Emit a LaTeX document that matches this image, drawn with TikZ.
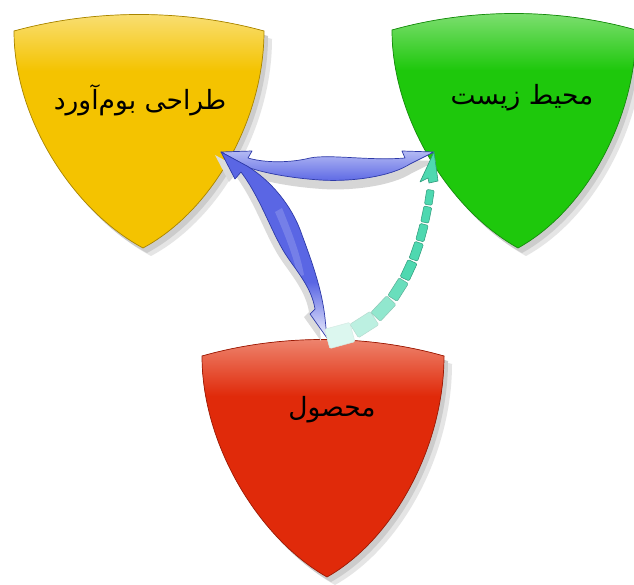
\documentclass[tikz,border=0pt]{standalone}
\usepackage{fontspec}
\newfontfamily\arabicfont[Script=Arabic]{DejaVu Sans}
\TeXXeTstate=1
\usetikzlibrary{decorations.markings,calc}
\definecolor{yelMain}{HTML}{F4C300}
\definecolor{yelLight}{HTML}{FCEFB8}
\definecolor{yelEdge}{HTML}{A88400}
\definecolor{grnMain}{HTML}{1EC80C}
\definecolor{grnLight}{HTML}{B8ECAE}
\definecolor{grnEdge}{HTML}{178A0E}
\definecolor{redMain}{HTML}{E02A0A}
\definecolor{redLight}{HTML}{F6BCAC}
\definecolor{redEdge}{HTML}{9A1A05}
\definecolor{arrBlue}{HTML}{5A66E4}
\definecolor{arrLight}{HTML}{B4BAF4}
\definecolor{arrEdge}{HTML}{2E3AA8}
\definecolor{dashCol}{HTML}{4ED8B0}
\definecolor{dashEdge}{HTML}{2E9A7A}
% shield outline: #1 half width, #2 height, #3 tip offset
\newcommand\shieldpath[3]{(-#1,0) .. controls (-0.36*#1,-22) and (0.36*#1,-22) .. (#1,0)
 .. controls (#1,0.41*#2) and (#3+0.55*#1,0.83*#2) .. (#3,#2)
 .. controls (#3-0.55*#1,0.83*#2) and (-#1,0.41*#2) .. (-#1,0) -- cycle}
% #1 x, #2 y, #3 half width, #4 height, #5 main, #6 light, #7 edge
\newcommand\myshield[7]{%
\begin{scope}[shift={(#1,#2)}]
 \fill[black!10, shift={(8,8)}] \shieldpath{#3}{#4}{4};
 \fill[black!20, shift={(4,5)}] \shieldpath{#3}{#4}{4};
 \fill[#5] \shieldpath{#3}{#4}{4};
 \begin{scope}
  \clip \shieldpath{#3}{#4}{4};
  \shade[top color=#6!65!#5, middle color=#6, bottom color=#5] (-#3-5,-20) rectangle (#3+5,40);
 \end{scope}
 \draw[#7, line width=0.7] \shieldpath{#3}{#4}{4};
\end{scope}}
\tikzset{
 label/.style={font=\arabicfont\fontsize{26.5}{30}\selectfont, text=black, inner sep=0},
 arrline/.style={draw=arrEdge, line width=0.7, line join=round},
 dashseg/.style={fill=dashCol, draw=dashEdge, rounded corners=1.2, line width=0.5},
}
\begin{document}
\begin{tikzpicture}[x=1pt,y=-1pt]
\useasboundingbox (0,0) rectangle (634,585);
\fill[white] (0,0) rectangle (634,585);
% shields
\myshield{139}{31}{125}{217}{yelMain}{yelLight}{yelEdge}
\myshield{514}{30}{122}{218}{grnMain}{grnLight}{grnEdge}
\myshield{323}{356}{121}{221}{redMain}{redLight}{redEdge}
% attach points
\coordinate (yR) at (221,152);
\coordinate (gL) at (434,152);
\coordinate (rT) at (327,338);
% labels
\node[label] (ytext) at (140,100) {\beginR طراحی بوم‌آورد\endR};
\node[label] (gtext) at (522,98) {\beginR محیط زیست\endR};
\node[label] (rtext) at (332,410) {\beginR محصول\endR};
% arrow yellow <-> green
\def\arrowApath{(yR) -- (252,151) -- (248,158) .. controls (265,163) and (290,163) .. (310,158)
 .. controls (330,154) and (370,161) .. (405,158) -- (402,151) -- (gL) -- (410,164)
 .. controls (390,177) and (350,182) .. (320,180) .. controls (290,178) and (265,173) .. (250,168) -- cycle}
\fill[black!16, transform canvas={shift={(2pt,-9pt)}}] \arrowApath;
\shade[top color=arrLight, bottom color=arrBlue] \arrowApath;
\path[arrline] \arrowApath;
% arrow yellow <-> red
\def\arrowBpath{(yR) -- (247,166) .. controls (270,180) and (292,205) .. (302,235)
 .. controls (312,262) and (322,290) .. (325,318) -- (rT) -- (310,314) -- (315,309)
 .. controls (312,290) and (300,275) .. (288,258) .. controls (272,235) and (262,200) .. (241,172)
 -- (235,179) -- cycle}
\fill[black!14, transform canvas={shift={(-6pt,-3pt)}}] \arrowBpath;
\begin{scope}
 \clip \arrowBpath;
 \fill[arrBlue] (200,140) rectangle (345,282);
 \shade[top color=arrBlue, bottom color=arrBlue!8!white] (200,282) rectangle (345,340);
 \fill[arrLight, opacity=.3] (282,208) .. controls (292,233) and (300,253) .. (304,275) -- (298,277) .. controls (293,255) and (285,235) .. (275,212) -- cycle;
\end{scope}
\path[arrline] \arrowBpath;
% dashed arrow red -> green
\path[postaction={decorate}, decoration={markings,
  mark=at position 13pt with {\fill[dashseg, fill=dashCol!20!white, draw=dashEdge!20] (-13,-10) rectangle (13,10);},
  mark=at position 40pt with {\fill[dashseg, fill=dashCol!38!white, draw=dashEdge!35] (-12,-8) rectangle (12,8);},
  mark=at position 65pt with {\fill[dashseg, fill=dashCol!62!white, draw=dashEdge!55] (-11.5,-6.5) rectangle (11.5,6.5);},
  mark=at position 89pt with {\fill[dashseg, fill=dashCol!85!white, draw=dashEdge!80] (-10.5,-5.5) rectangle (10.5,5.5);},
  mark=at position 111pt with {\fill[dashseg] (-9.5,-5) rectangle (9.5,5);},
  mark=at position 131.5pt with {\fill[dashseg] (-9,-4.5) rectangle (9,4.5);},
  mark=at position 151pt with {\fill[dashseg] (-8.5,-4.2) rectangle (8.5,4.2);},
  mark=at position 169.5pt with {\fill[dashseg] (-8,-4) rectangle (8,4);},
  mark=at position 187pt with {\fill[dashseg] (-7.5,-3.8) rectangle (7.5,3.8);}
 }] (rT) .. controls (390,330) and (428,262) .. (gL);
\fill[dashCol, draw=dashEdge, line width=0.6, line join=round] (gL) -- (438,181) -- (429,183) -- (428,178) -- (420,182) -- cycle;
\end{tikzpicture}
\end{document}
